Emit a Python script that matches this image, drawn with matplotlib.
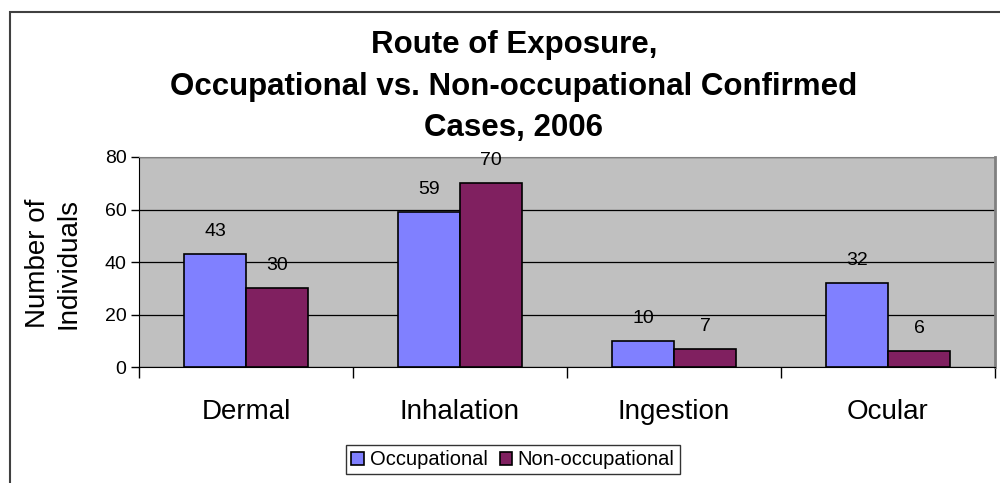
import matplotlib.pyplot as plt
import matplotlib.patches as patches
import numpy as np

categories = ["Dermal", "Inhalation", "Ingestion", "Ocular"]
occupational = [43, 59, 10, 32]
non_occupational = [30, 70, 7, 6]
y_ticks = [0, 20, 40, 60, 80]

plt.rcParams['font.family'] = ['Liberation Sans', 'DejaVu Sans']

fig = plt.figure(figsize=(10, 4.83), dpi=100)
fig.patch.set_facecolor('white')

# outer chart frame
fig.patches.append(patches.Rectangle((0.010, -0.05), 1.1, 1.025, transform=fig.transFigure,
                                     fill=False, edgecolor='#404040', linewidth=1.5))

ax = fig.add_axes([0.139, 0.240, 0.856, 0.435])
ax.set_facecolor('#C0C0C0')

x = np.arange(len(categories))
w = 0.29
b1 = ax.bar(x - w / 2, occupational, w, color='#8080FF', edgecolor='black', linewidth=1.2,
            label='Occupational', zorder=3)
b2 = ax.bar(x + w / 2, non_occupational, w, color='#802060', edgecolor='black', linewidth=1.2,
            label='Non-occupational', zorder=3)

for bars, vals in ((b1, occupational), (b2, non_occupational)):
    for bar, v in zip(bars, vals):
        ax.annotate(str(v), (bar.get_x() + bar.get_width() / 2, v), xytext=(0, 10),
                    textcoords='offset points', ha='center', va='bottom', fontsize=14)

ax.set_xlim(-0.5, len(categories) - 0.5)
ax.set_ylim(0, 80)
ax.set_yticks(y_ticks)
ax.yaxis.grid(True, color='black', linewidth=0.9, zorder=1)
ax.set_axisbelow(True)

ax.set_xticks(x)
ax.set_xticklabels(categories, fontsize=20)
ax.set_xticks(np.arange(len(categories) + 1) - 0.5, minor=True)
ax.tick_params(axis='x', which='major', length=0, pad=23)
ax.tick_params(axis='x', which='minor', length=8, width=1, direction='out')
ax.tick_params(axis='y', labelsize=14, length=6, width=1, direction='out', pad=3)

ax.spines['left'].set_color('black')
ax.spines['bottom'].set_color('black')
ax.spines['top'].set_color('#808080')
ax.spines['right'].set_color('#808080')
ax.spines['right'].set_linewidth(2)

fig.text(0.0535, 0.455, "Number of\nIndividuals", rotation=90, ha='center', va='center',
         fontsize=20, linespacing=1.25)

fig.text(0.514, 0.82, "Route of Exposure,\nOccupational vs. Non-occupational Confirmed\nCases, 2006",
         ha='center', va='center', fontsize=22.5, fontweight='bold', linespacing=1.5)

leg = fig.legend(loc='center', bbox_to_anchor=(0.513, 0.048), ncol=2, fontsize=14.5,
                 frameon=True, fancybox=False, handlelength=0.6, handleheight=0.6,
                 handletextpad=0.3, columnspacing=0.6, borderpad=0.25)
leg.get_frame().set_edgecolor('black')
leg.get_frame().set_linewidth(1)

fig.savefig('out.png', dpi=100)
